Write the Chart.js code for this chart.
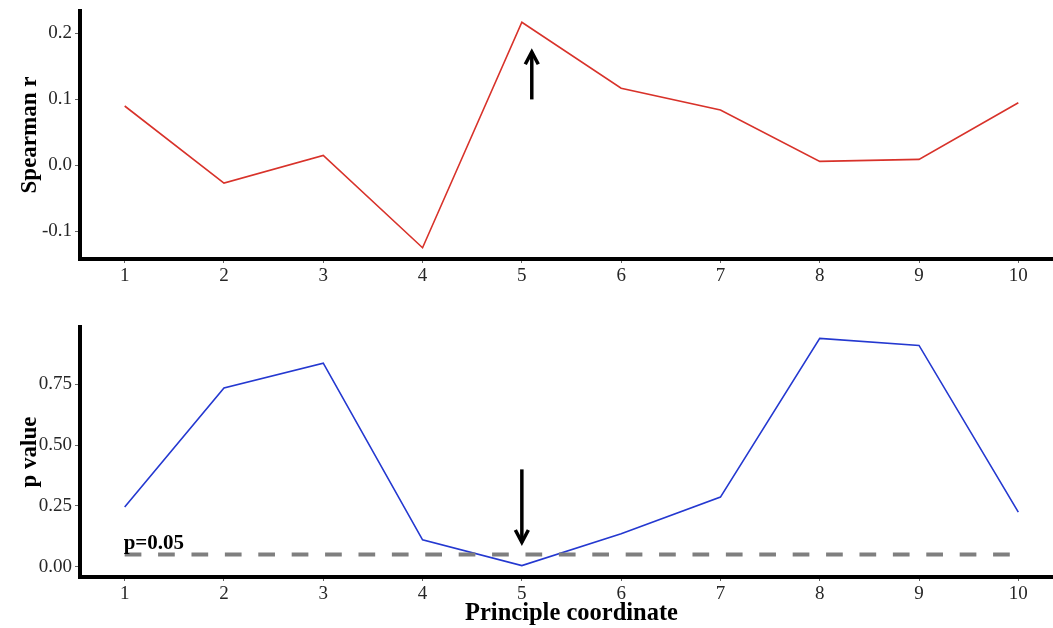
<!DOCTYPE html>
<html>
<head>
<meta charset="utf-8">
<script src="https://cdn.jsdelivr.net/npm/chart.js@4/dist/chart.umd.min.js"></script>
<style>
  html, body { margin: 0; padding: 0; background: #fff; overflow: hidden; width: 1053px; height: 628px; }
  canvas { position: absolute; left: 0; }
  #c1 { top: -4px; }
  #c2 { top: 300px; }
</style>
</head>
<body>
<canvas id="c1" width="1063" height="304"></canvas>
<canvas id="c2" width="1063" height="328"></canvas>
<script>
// ---- data ----
const coords = [1, 2, 3, 4, 5, 6, 7, 8, 9, 10];
const spearmanR = [0.090, -0.027, 0.015, -0.125, 0.217, 0.117, 0.084, 0.006, 0.009, 0.095];
const pValues = [0.245, 0.735, 0.837, 0.110, 0.004, 0.135, 0.286, 0.939, 0.910, 0.224];
const xTicks = [1, 2, 3, 4, 5, 6, 7, 8, 9, 10];
const rTicks = [-0.1, 0.0, 0.1, 0.2];
const pTicks = [0.00, 0.25, 0.50, 0.75];
const threshold = 0.05;
const thresholdLabel = 'p=0.05';
const arrowTop = [5.1, 0.1, 0.172];     // x, tail y, head y
const arrowBottom = [5.0, 0.40, 0.10];  // x, tail y, head y

const SERIF = "'Liberation Serif', 'Times New Roman', serif";

function expandRange(vals) {
  const mn = Math.min(...vals), mx = Math.max(...vals);
  const pad = (mx - mn) * 0.05;
  return [mn - pad, mx + pad];
}

const arrowPlugin = {
  id: 'arrows',
  afterDatasetsDraw(chart, args, opts) {
    const a = opts.arrow;
    if (!a) return;
    const xs = chart.scales.x, ys = chart.scales.y;
    const x = xs.getPixelForValue(a[0]);
    const y0 = ys.getPixelForValue(a[1]);
    const y1 = ys.getPixelForValue(a[2]);
    const ctx = chart.ctx;
    ctx.save();
    ctx.strokeStyle = '#000';
    ctx.lineWidth = 3.5;
    ctx.lineCap = 'butt';
    ctx.lineJoin = 'miter';
    ctx.beginPath();
    ctx.moveTo(x, y0);
    ctx.lineTo(x, y1);
    ctx.stroke();
    const dir = y1 < y0 ? 1 : -1;
    const hl = 13, hw = 6.5;
    ctx.beginPath();
    ctx.moveTo(x - hw, y1 + dir * hl * 0.95);
    ctx.lineTo(x, y1);
    ctx.lineTo(x + hw, y1 + dir * hl * 0.95);
    ctx.stroke();
    ctx.restore();
  }
};

const labelPlugin = {
  id: 'thrLabel',
  afterDatasetsDraw(chart, args, opts) {
    if (!opts.text) return;
    const xs = chart.scales.x, ys = chart.scales.y;
    const ctx = chart.ctx;
    ctx.save();
    ctx.font = "bold 21px " + SERIF;
    ctx.fillStyle = '#000';
    ctx.textAlign = 'left';
    ctx.textBaseline = 'alphabetic';
    ctx.fillText(opts.text, xs.getPixelForValue(opts.x) - 1, ys.getPixelForValue(opts.y) - 5);
    ctx.restore();
  }
};

function makeChart(id, cfg) {
  const yr = expandRange(cfg.values);
  return new Chart(document.getElementById(id), {
    type: 'line',
    data: {
      datasets: cfg.datasets
    },
    options: {
      responsive: false,
      animation: false,
      devicePixelRatio: 1,
      layout: { padding: { top: cfg.padTop, right: 0, left: 0, bottom: 0 } },
      plugins: {
        legend: { display: false },
        tooltip: { enabled: false },
        arrows: { arrow: cfg.arrow },
        thrLabel: cfg.label || {}
      },
      scales: {
        x: {
          type: 'linear',
          min: 0.55,
          max: 10.45,
          afterFit: s => { s.height = cfg.xHeight; },
          afterBuildTicks: s => { s.ticks = xTicks.map(v => ({ value: v })); },
          grid: { display: true, drawOnChartArea: false, drawTicks: true, tickLength: 4, color: '#666', lineWidth: 1 },
          border: { display: true, color: '#000', width: 4 },
          ticks: {
            font: { family: SERIF, size: 19 },
            color: '#262626',
            padding: 2,
            maxRotation: 0,
            autoSkip: false,
            callback: v => String(v)
          },
          title: cfg.xTitle ? {
            display: true,
            text: cfg.xTitle,
            font: { family: SERIF, size: 24.5, weight: 'bold' },
            color: '#000',
            padding: { top: 0, bottom: 0 }
          } : { display: false }
        },
        y: {
          type: 'linear',
          min: yr[0],
          max: yr[1],
          afterFit: s => { s.width = 80; },
          afterBuildTicks: s => { s.ticks = cfg.ticks.map(v => ({ value: v })); },
          grid: { display: true, drawOnChartArea: false, drawTicks: true, tickLength: 5, color: '#666', lineWidth: 1 },
          border: { display: true, color: '#000', width: 4 },
          ticks: {
            font: { family: SERIF, size: 19 },
            color: '#262626',
            padding: 3,
            callback: v => v.toFixed(cfg.decimals)
          },
          title: {
            display: true,
            text: cfg.yTitle,
            font: { family: SERIF, size: 23, weight: 'bold' },
            color: '#000',
            padding: { top: 16, bottom: 0 }
          }
        }
      }
    },
    plugins: [arrowPlugin, labelPlugin]
  });
}

makeChart('c1', {
  values: spearmanR,
  ticks: rTicks,
  decimals: 1,
  yTitle: 'Spearman r',
  padTop: 15,
  xHeight: 41,
  arrow: arrowTop,
  datasets: [{
    data: coords.map((c, i) => ({ x: c, y: spearmanR[i] })),
    borderColor: '#d8322a',
    borderWidth: 1.6,
    pointRadius: 0,
    tension: 0,
    fill: false
  }]
});

makeChart('c2', {
  values: pValues,
  ticks: pTicks,
  decimals: 2,
  yTitle: 'p value',
  xTitle: 'Principle coordinate',
  padTop: 27,
  xHeight: 51,
  arrow: arrowBottom,
  label: { text: thresholdLabel, x: coords[0], y: threshold },
  datasets: [{
    data: [{ x: coords[0], y: threshold }, { x: coords[coords.length - 1], y: threshold }],
    borderColor: '#7f7f7f',
    borderWidth: 4,
    borderDash: [16.7, 16.7],
    pointRadius: 0,
    fill: false
  }, {
    data: coords.map((c, i) => ({ x: c, y: pValues[i] })),
    borderColor: '#2438d0',
    borderWidth: 1.6,
    pointRadius: 0,
    tension: 0,
    fill: false
  }]
});
</script>
</body>
</html>
